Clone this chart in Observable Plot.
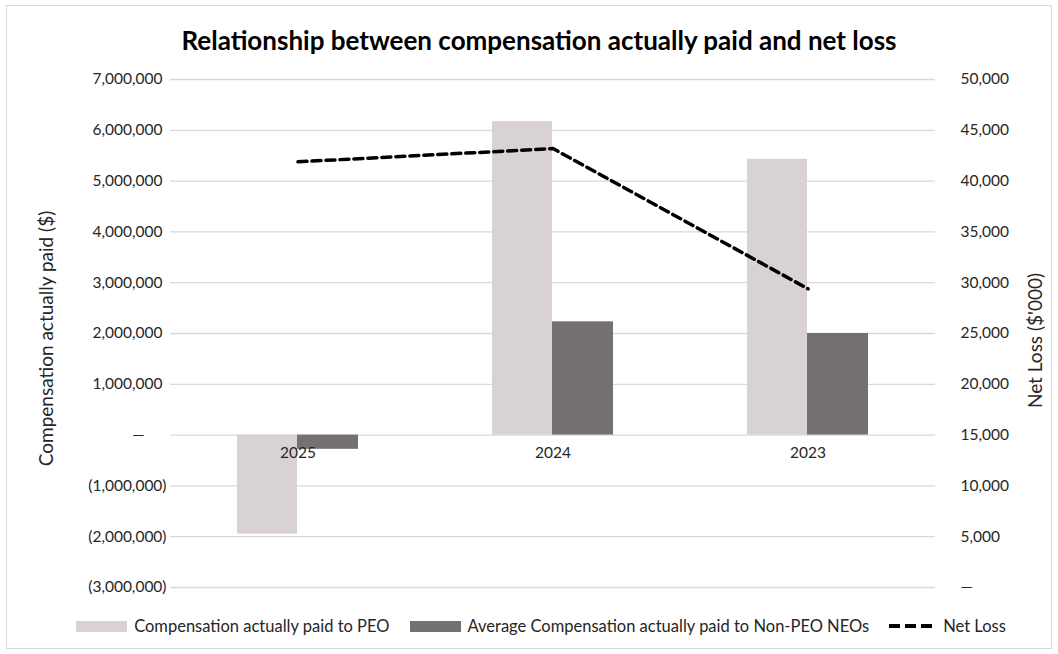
<!DOCTYPE html>
<html>
<head>
<meta charset="utf-8">
<script src="https://cdn.jsdelivr.net/npm/d3@7"></script>
<script src="https://cdn.jsdelivr.net/npm/@observablehq/plot@0.6"></script>
<style>
  html, body { margin: 0; padding: 0; background: #ffffff; }
  body { width: 1058px; height: 654px; position: relative; overflow: hidden; font-family: Lato, "Open Sans", sans-serif; }
  #border { position: absolute; left: 6px; top: 5px; width: 1046px; height: 644px; border: 1px solid #d9d9d9; box-sizing: border-box; }
  #title { position: absolute; left: 20px; top: 24px; width: 1038px; text-align: center; font-weight: 700; font-size: 26px; line-height: 32px; color: #000; }
  #chart { position: absolute; left: 0; top: 60px; }
  #legend { position: absolute; left: 0; top: 615px; width: 1082px; display: flex; justify-content: center; align-items: center; font-size: 16.5px; color: #262626; line-height: 22px; }
  .item { display: flex; align-items: center; margin: 0 10px; }
  .sw { width: 51px; height: 11px; margin-right: 7px; }
</style>
</head>
<body>
<div id="border"></div>
<div id="title">Relationship between compensation actually paid and net loss</div>
<div id="chart"></div>
<div id="legend"></div>
<script>
const years = ["2025", "2024", "2023"];
const peoComp = [-1950000, 6170000, 5430000];
const neoComp = [-280000, 2230000, 2000000];
const netLoss = [41900, 43200, 29400];
const leftTicks = [-3000000, -2000000, -1000000, 0, 1000000, 2000000, 3000000, 4000000, 5000000, 6000000, 7000000];
const rightTicks = [0, 5000, 10000, 15000, 20000, 25000, 30000, 35000, 40000, 45000, 50000];
const seriesNames = ["Compensation actually paid to PEO", "Average Compensation actually paid to Non-PEO NEOs", "Net Loss"];
const colors = ["#d9d2d5", "#767171", "#000000"];

const leftMin = -3000000, leftMax = 7000000, rightMax = 50000;
const toLeft = v => leftMin + v / rightMax * (leftMax - leftMin);
const toRight = y => (y - leftMin) / (leftMax - leftMin) * rightMax;

const rows = years.map((y, i) => ({year: y, peo: peoComp[i], neo: neoComp[i], loss: netLoss[i]}));
const fmt = d3.format(",");
const leftFmt = d => d === 0 ? "—\u2007\u2007\u00a0" : d < 0 ? "(" + fmt(-d) + ")" : fmt(d) + "\u00a0";
const rightFmt = d => { const v = Math.round(toRight(d)); return v === 0 ? "—" : fmt(v); };

const chart = Plot.plot({
  width: 1058,
  height: 545,
  marginTop: 19,
  marginBottom: 18,
  marginLeft: 170,
  marginRight: 123,
  style: {fontFamily: "Lato, 'Open Sans', sans-serif", fontSize: "15.5px", color: "#262626", background: "transparent"},
  x: {domain: years, padding: 0, axis: null},
  y: {domain: [leftMin, leftMax], axis: null},
  marks: [
    Plot.ruleY(leftTicks, {stroke: "#d9d9d9", strokeWidth: 1.3}),
    Plot.barY(rows, {x: "year", y1: 0, y2: "peo", fill: colors[0], insetLeft: 67, insetRight: 128}),
    Plot.barY(rows, {x: "year", y1: 0, y2: "neo", fill: colors[1], insetLeft: 127, insetRight: 67}),
    Plot.line(rows, {x: "year", y: d => toLeft(d.loss), stroke: colors[2], strokeWidth: 3.5, strokeDasharray: "9,5"}),
    Plot.text(rows, {x: "year", y: 0, text: "year", dy: 18, fontSize: 15.5, fill: "#262626"}),
    Plot.axisY(leftTicks, {anchor: "left", tickSize: 0, tickPadding: 4, tickFormat: leftFmt, label: null, fontSize: 15.5}),
    Plot.axisY(rightTicks.map(toLeft), {anchor: "right", tickSize: 0, tickPadding: 25, tickFormat: rightFmt, label: null, fontSize: 15.5}),
    Plot.text(["Compensation actually paid ($)"], {frameAnchor: "left", textAnchor: "middle", dx: -124, dy: 5, rotate: -90, fontSize: 19, fill: "#262626"}),
    Plot.text(["Net Loss ($'000)"], {frameAnchor: "right", textAnchor: "middle", dx: 100, dy: 7, rotate: -90, fontSize: 19, fill: "#262626"})
  ]
});
document.getElementById("chart").appendChild(chart);

const legend = document.getElementById("legend");
seriesNames.forEach((name, i) => {
  const item = document.createElement("div");
  item.className = "item";
  if (i < 2) {
    const sw = document.createElement("div");
    sw.className = "sw";
    sw.style.background = colors[i];
    item.appendChild(sw);
  } else {
    const ns = "http://www.w3.org/2000/svg";
    const svg = document.createElementNS(ns, "svg");
    svg.setAttribute("width", "46"); svg.setAttribute("height", "12");
    svg.style.marginRight = "8px";
    const ln = document.createElementNS(ns, "line");
    ln.setAttribute("x1", "0"); ln.setAttribute("x2", "46");
    ln.setAttribute("y1", "6"); ln.setAttribute("y2", "6");
    ln.setAttribute("stroke", colors[2]); ln.setAttribute("stroke-width", "4");
    ln.setAttribute("stroke-dasharray", "11,5");
    svg.appendChild(ln);
    item.appendChild(svg);
  }
  const t = document.createElement("span");
  t.textContent = name;
  item.appendChild(t);
  legend.appendChild(item);
});
</script>
</body>
</html>
